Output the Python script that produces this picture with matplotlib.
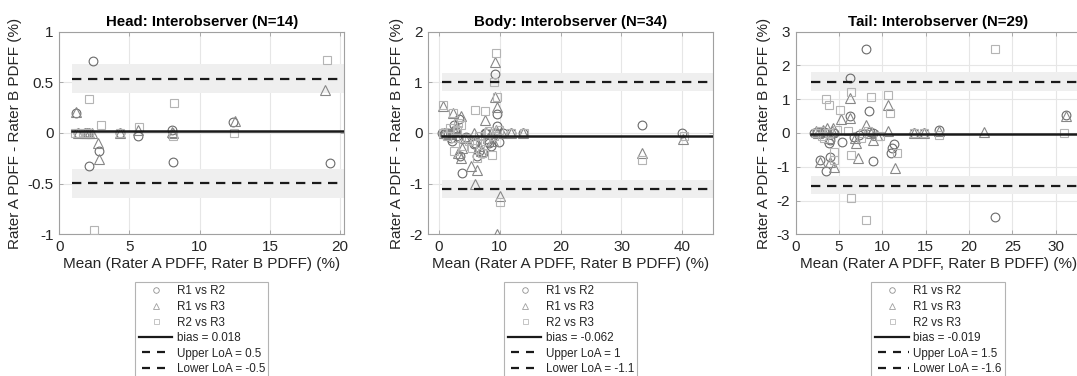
import matplotlib
matplotlib.use("Agg")
import matplotlib.pyplot as plt
from matplotlib.lines import Line2D

plt.rcParams['font.family'] = ['Liberation Sans', 'DejaVu Sans']

# ---------------- data ----------------
titles = ["Head: Interobserver (N=14)", "Body: Interobserver (N=34)", "Tail: Interobserver (N=29)"]
series_labels = ["R1 vs R2", "R1 vs R3", "R2 vs R3"]

head_x_r12 = [1.19, 1.35, 1.8, 1.95, 2.1, 2.14, 2.38, 2.85, 4.3, 5.63, 8.0, 8.13, 12.4, 19.25]
head_y_r12 = [0.20, 0, 0, 0, 0, -0.33, 0.71, -0.18, 0, -0.03, 0.03, -0.29, 0.11, -0.30]
head_x_r13 = [1.19, 1.35, 1.8, 1.95, 2.1, 2.3, 2.78, 2.85, 4.3, 5.63, 8.0, 8.13, 12.5, 18.9]
head_y_r13 = [0.21, 0, 0, 0, 0, 0, -0.10, -0.26, 0, 0.03, 0.01, 0, 0.12, 0.42]
head_x_r23 = [1.1, 1.35, 1.8, 1.95, 2.1, 2.14, 2.5, 2.95, 4.3, 5.7, 8.1, 8.18, 12.45, 19.06]
head_y_r23 = [0, 0, 0, 0, 0, 0.34, -0.96, 0.08, 0, 0.06, -0.03, 0.30, 0, 0.72]

body_x_r12 = [0.5, 0.8, 1.0, 1.5, 2.0, 2.2, 2.5, 2.7, 3.0, 3.3, 3.5, 3.8, 4.5, 5.8, 6.0, 6.3, 6.5,
              7.5, 7.8, 8.1, 8.2, 8.6, 9.15, 9.4, 9.5, 9.6, 9.9, 10.6, 11.8, 13.8, 33.3, 40.0, 2.6, 7.2]
body_y_r12 = [0, -0.02, 0, 0, -0.10, -0.15, 0.15, 0.05, -0.05, 0.28, -0.45, -0.78, -0.07, -0.22, -0.20, -0.45, -0.35,
              0.0, 0.0, -0.15, -0.20, -0.25, 1.16, 0.0, 0.38, 0.13, -0.18, 0.0, 0.0, 0.0, 0.15, 0.0, 0.02, -0.40]
body_x_r13 = [0.6, 0.8, 1.2, 2.35, 2.5, 2.8, 3.2, 3.6, 3.7, 3.6, 4.2, 5.2, 5.8, 6.0, 6.3, 6.6, 6.9,
              7.6, 8.0, 8.5, 9.2, 9.2, 9.5, 9.4, 10.0, 9.5, 2.0, 8.9, 11.8, 13.8, 33.4, 40.2, 1.6, 10.4]
body_y_r13 = [0.53, 0, 0, 0.39, 0.05, 0.10, -0.40, 0.33, -0.30, -0.50, -0.10, -0.65, 0.0, -1.0, -0.73, -0.25, -0.35,
              0.26, -0.10, 0.0, 1.41, 0.72, 0.52, 0.05, -1.25, -2.0, 0.0, -0.15, 0.0, 0.0, -0.40, -0.12, -0.02, 0.0]
body_x_r23 = [0.6, 0.7, 1.3, 2.3, 2.4, 2.9, 3.2, 3.6, 4.0, 6.0, 6.3, 6.8, 7.6, 7.6, 8.65, 9.1, 9.3,
              9.5, 10.0, 8.0, 9.0, 33.4, 40.3, 1.8, 4.6, 5.5, 6.6, 7.0, 9.8, 11.8, 13.9, 2.7, 5.0, 8.3]
body_y_r23 = [0.55, 0.0, -0.05, 0.40, -0.35, 0.05, 0.20, 0.15, -0.25, 0.46, -0.50, -0.20, 0.44, -0.15, -0.43, 1.00, 1.58,
              0.72, -1.36, 0.0, -0.05, -0.53, -0.05, 0.10, -0.10, -0.30, -0.05, -0.40, 0.05, 0.0, 0.0, -0.10, -0.15, 0.03]

tail_x_r12 = [2.1, 2.5, 2.78, 2.85, 3.3, 3.55, 3.6, 3.9, 4.0, 4.0, 4.4, 5.37, 6.24, 6.3, 6.7,
              8.15, 8.5, 8.6, 8.9, 8.9, 11.0, 11.3, 11.1, 13.6, 14.8, 16.5, 22.96, 31.2, 7.3]
tail_y_r12 = [0, 0.02, -0.80, 0, 0.03, -1.12, 0, -0.30, -0.70, -0.20, 0, -0.28, 1.62, 0.50, -0.12,
              2.50, 0.65, 0.02, -0.82, 0, -0.60, -0.33, -0.45, 0, 0, 0.08, -2.49, 0.52, -0.05]
tail_x_r13 = [2.3, 2.78, 2.9, 3.2, 3.6, 4.0, 4.2, 4.3, 4.4, 5.2, 6.24, 6.3, 7.0, 7.2, 8.1,
              8.7, 8.9, 9.4, 10.65, 10.66, 11.5, 13.6, 14.8, 16.5, 21.7, 31.2, 3.8, 6.8, 2.6]
tail_y_r13 = [0.05, -0.85, 0.03, 0.10, 0.15, -0.85, 0.05, 0.16, -1.00, 0.40, 1.05, 0.45, -0.30, -0.75, 0.25,
              0.0, -0.20, -0.05, 0.05, 0.83, -1.05, 0.0, 0.0, 0.05, 0.03, 0.50, -0.15, -0.15, 0.0]
tail_x_r23 = [2.4, 3.0, 3.55, 3.9, 4.4, 4.4, 5.1, 6.0, 6.4, 6.4, 6.4, 7.8, 8.15, 8.7, 9.7,
              10.7, 10.9, 11.7, 16.5, 22.96, 30.9, 3.3, 2.8, 4.8, 13.6, 14.8, 8.4, 7.5, 3.8]
tail_y_r23 = [0.0, -0.10, 1.02, 0.83, -0.55, -0.80, 0.68, 0.06, 1.20, -0.65, -1.92, 0.0, -2.58, 1.08, -0.10,
              1.12, 0.60, -0.60, -0.05, 2.48, 0.0, -0.15, 0.05, 0.10, 0.0, 0.0, 0.05, -0.15, 0.0]

bias = [0.018, -0.062, -0.019]
upper_loa = [0.535, 1.01, 1.52]
lower_loa = [-0.497, -1.11, -1.56]
upper_ci = [(0.39, 0.68), (0.83, 1.19), (1.25, 1.82)]
lower_ci = [(-0.64, -0.355), (-1.29, -0.925), (-1.82, -1.27)]
line_start = [0.88, 0.44, 1.78]
bias_text = ["0.018", "-0.062", "-0.019"]
upper_text = ["0.5", "1", "1.5"]
lower_text = ["-0.5", "-1.1", "-1.6"]

xlims = [(0, 20.3), (-1.76, 45.1), (0, 32.85)]
ylims = [(-1, 1), (-2, 2), (-3, 3)]
xticks = [[0, 5, 10, 15, 20], [0, 10, 20, 30, 40], [0, 5, 10, 15, 20, 25, 30]]
yticks = [[-1, -0.5, 0, 0.5, 1], [-2, -1, 0, 1, 2], [-3, -2, -1, 0, 1, 2, 3]]
yticklabels = [["-1", "-0.5", "0", "0.5", "1"], ["-2", "-1", "0", "1", "2"],
               ["-3", "-2", "-1", "0", "1", "2", "3"]]

panels = [
    [(head_x_r12, head_y_r12), (head_x_r13, head_y_r13), (head_x_r23, head_y_r23)],
    [(body_x_r12, body_y_r12), (body_x_r13, body_y_r13), (body_x_r23, body_y_r23)],
    [(tail_x_r12, tail_y_r12), (tail_x_r13, tail_y_r13), (tail_x_r23, tail_y_r23)],
]

# ---------------- style ----------------
W, H = 1077, 376
fig = plt.figure(figsize=(W / 100, H / 100), dpi=100)

ax_left_px = [59.3, 428.3, 795.6]
ax_w_px = 285.0
ax_top_px, ax_bot_px = 31.7, 234.3

markers = ['o', '^', 's']
mcolors = ['#6a6a6a', '#878787', '#b4b4b4']
msizes = [6.3, 6.5, 5.2]
band_color = '#efefef'
grid_color = '#e6e6e6'
spine_color = '#a0a0a0'
text_color = '#262626'
leg_dash = (5.4, (3.6, 3.15))

for i in range(3):
    ax = fig.add_axes([ax_left_px[i] / W, (H - ax_bot_px) / H, ax_w_px / W, (ax_bot_px - ax_top_px) / H])
    ax.set_xlim(*xlims[i])
    ax.set_ylim(*ylims[i])
    ax.set_xticks(xticks[i])
    ax.set_yticks(yticks[i])
    ax.set_yticklabels(yticklabels[i])
    ax.grid(True, color=grid_color, linewidth=0.8)
    ax.set_axisbelow(True)
    for s in ax.spines.values():
        s.set_color(spine_color)
        s.set_linewidth(0.8)
    ax.tick_params(direction='in', length=3, width=0.6, color=spine_color,
                   labelsize=11, labelcolor=text_color, top=True, right=True, pad=4)
    x0 = line_start[i]
    x1 = xlims[i][1]
    ax.fill_between([x0, x1], upper_ci[i][0], upper_ci[i][1], color=band_color, linewidth=0, zorder=1)
    ax.fill_between([x0, x1], lower_ci[i][0], lower_ci[i][1], color=band_color, linewidth=0, zorder=1)

    for k, (xs, ys) in enumerate(panels[i]):
        ax.plot(xs, ys, linestyle='none', marker=markers[k], markersize=msizes[k],
                markerfacecolor='none', markeredgecolor=mcolors[k], markeredgewidth=0.8, zorder=3)

    ax.plot([x0, x1], [bias[i], bias[i]], color='#1a1a1a', linewidth=1.8, zorder=4)
    ax.plot([x0, x1], [upper_loa[i], upper_loa[i]], color='#1a1a1a', linewidth=1.6,
            linestyle=(0, (4.2, 3.0)), zorder=4)
    ax.plot([x0, x1], [lower_loa[i], lower_loa[i]], color='#1a1a1a', linewidth=1.6,
            linestyle=(0, (4.2, 3.0)), zorder=4)

    ax.set_title(titles[i], fontsize=10.8, fontweight='bold', color='black', pad=4)
    ax.set_xlabel("Mean (Rater A PDFF, Rater B PDFF) (%)", fontsize=11, color=text_color, labelpad=2)
    ax.set_ylabel("Rater A PDFF - Rater B PDFF (%)", fontsize=11, color=text_color, labelpad=4)

    handles = [
        Line2D([], [], linestyle='none', marker='o', markersize=4, markerfacecolor='none',
               markeredgecolor='#909090', markeredgewidth=0.6),
        Line2D([], [], linestyle='none', marker='^', markersize=4.3, markerfacecolor='none',
               markeredgecolor='#a0a0a0', markeredgewidth=0.6),
        Line2D([], [], linestyle='none', marker='s', markersize=3.6, markerfacecolor='none',
               markeredgecolor='#bcbcbc', markeredgewidth=0.6),
        Line2D([], [], color='#1a1a1a', linewidth=1.6),
        Line2D([], [], color='#1a1a1a', linewidth=1.6, linestyle=leg_dash),
        Line2D([], [], color='#1a1a1a', linewidth=1.6, linestyle=leg_dash),
    ]
    labels = series_labels + ["bias = " + bias_text[i], "Upper LoA = " + upper_text[i],
                              "Lower LoA = " + lower_text[i]]
    cx = (ax_left_px[i] + ax_w_px / 2) / W
    leg = fig.legend(handles, labels, loc='upper center', bbox_to_anchor=(cx, (H - 282) / H),
                     fontsize=8.4, frameon=True, fancybox=False, borderpad=0.3,
                     labelspacing=0.3, handlelength=2.9, handletextpad=0.35, borderaxespad=0)
    leg.get_frame().set_edgecolor('#a0a0a0')
    leg.get_frame().set_linewidth(0.8)
    for t in leg.get_texts():
        t.set_color(text_color)

fig.savefig("out.png", dpi=100)
